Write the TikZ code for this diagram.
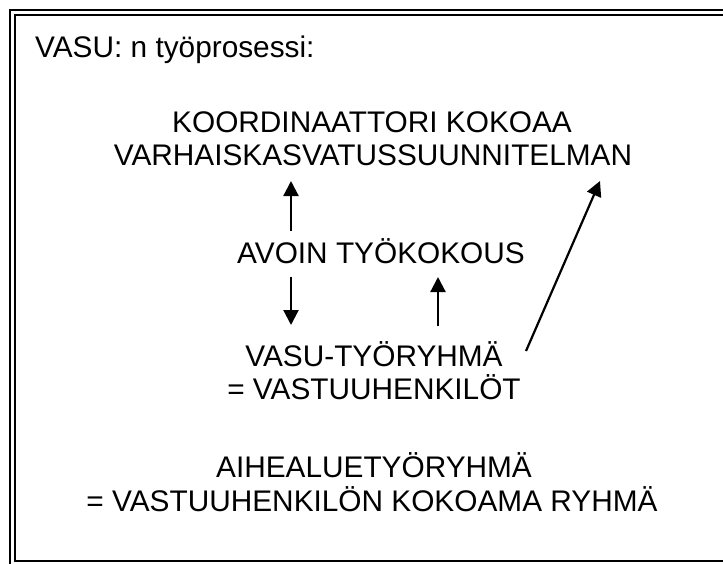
\documentclass[tikz,border=0pt]{standalone}
\usepackage{fontspec}
\setmainfont{Liberation Sans}
\usetikzlibrary{arrows.meta}
\begin{document}
\begin{tikzpicture}[x=1pt,y=-1pt,
  lbl/.style={font=\fontsize{29.8}{33}\selectfont, inner sep=0pt, anchor=base},
  arr/.style={line width=2.2pt, -{Triangle[length=15pt,width=15pt]}}]
\useasboundingbox (0,0) rectangle (723,563);
\fill[white] (0,0) rectangle (723,563);
% frame
\draw[line width=2pt] (10,570) -- (10,10) -- (730,10);
\draw[line width=2.8pt] (730,561) -- (15,561) -- (15,15) -- (730,15);
% texts
\node[lbl, anchor=base west] (title) at (35,57) {VASU: n työprosessi:};
\node[lbl] (k1) at (372,132) {KOORDINAATTORI KOKOAA};
\node[lbl] (k2) at (373,165) {VARHAISKASVATUSSUUNNITELMAN};
\node[lbl] (avoin) at (381,263) {AVOIN TYÖKOKOUS};
\node[lbl] (v1) at (374,366) {VASU-TYÖRYHMÄ};
\node[lbl] (v2) at (374,399) {= VASTUUHENKILÖT};
\node[lbl] (a1) at (374,477) {AIHEALUETYÖRYHMÄ};
\node[lbl] (a2) at (372,511) {= VASTUUHENKILÖN KOKOAMA RYHMÄ};
% arrow endpoints
\coordinate (p1s) at (291,231);
\coordinate (p1e) at (291,181);
\coordinate (p2s) at (291,277);
\coordinate (p2e) at (291,325);
\coordinate (p3s) at (438,326);
\coordinate (p3e) at (438,277);
\coordinate (p4s) at (526,351);
\coordinate (p4e) at (600,181);
\draw[arr] (p1s) -- (p1e);
\draw[arr] (p2s) -- (p2e);
\draw[arr] (p3s) -- (p3e);
\draw[arr] (p4s) -- (p4e);
\end{tikzpicture}
\end{document}
